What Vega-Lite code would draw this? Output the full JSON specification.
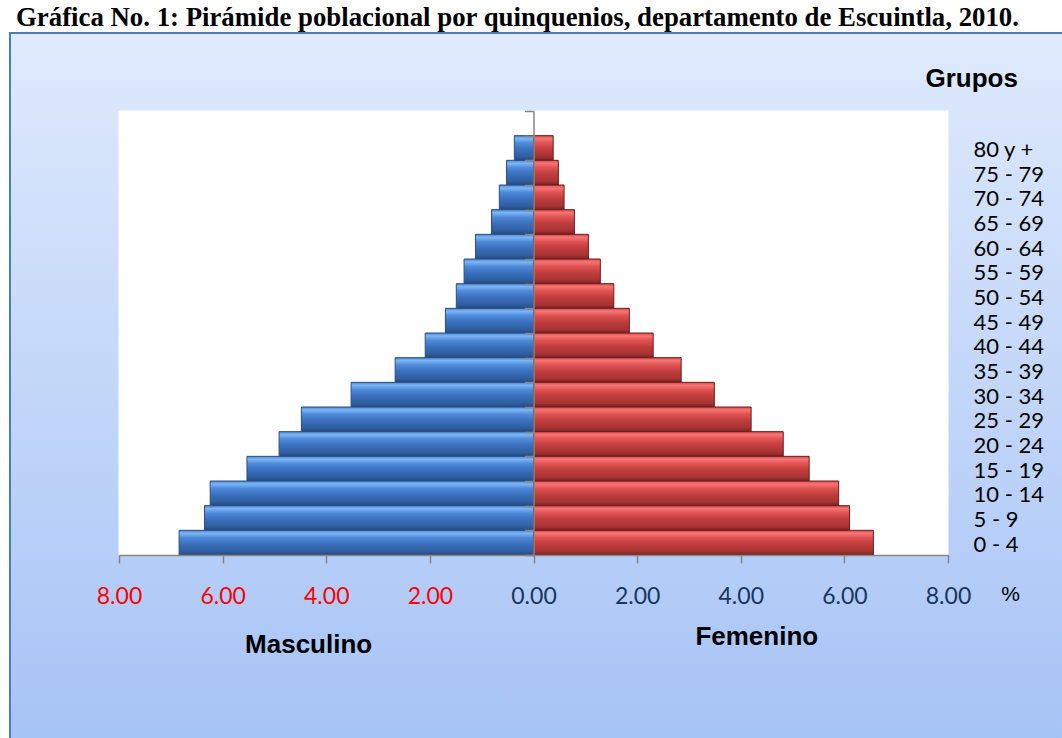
{
  "$schema": "https://vega.github.io/schema/vega-lite/v6.json",
  "width": 1062,
  "height": 715,
  "autosize": {"type": "none"},
  "padding": {"left": 10, "top": 33, "right": -10, "bottom": -10},
  "background": "#FFFFFF",
  "view": {
    "fill": {"gradient": "linear", "x1": 0, "y1": 0, "x2": 0, "y2": 1, "stops": [{"offset": 0, "color": "#DFEAFC"}, {"offset": 1, "color": "#A6C3F6"}]},
    "stroke": "#4A7EBB",
    "strokeWidth": 2
  },
  "title": {
    "text": "Gráfica No. 1: Pirámide poblacional por quinquenios, departamento de Escuintla, 2010.",
    "font": "Liberation Serif",
    "fontSize": 26.8,
    "fontWeight": "bold",
    "color": "#000000",
    "anchor": "start",
    "frame": "group",
    "dx": 6,
    "dy": 20,
    "offset": 0,
    "baseline": "alphabetic",
    "zindex": 5
  },
  "datasets": {
    "bandas": [
      {"grupo": ""}, {"grupo": "80 y +"}, {"grupo": "75 - 79"}, {"grupo": "70 - 74"}, {"grupo": "65 - 69"}, {"grupo": "60 - 64"},
      {"grupo": "55 - 59"}, {"grupo": "50 - 54"}, {"grupo": "45 - 49"}, {"grupo": "40 - 44"}, {"grupo": "35 - 39"}, {"grupo": "30 - 34"},
      {"grupo": "25 - 29"}, {"grupo": "20 - 24"}, {"grupo": "15 - 19"}, {"grupo": "10 - 14"}, {"grupo": "5 - 9"}, {"grupo": "0 - 4"}
    ],
    "pob": [
      {"grupo": "80 y +", "sexo": "Masculino", "pct": -0.37}, {"grupo": "80 y +", "sexo": "Femenino", "pct": 0.38},
      {"grupo": "75 - 79", "sexo": "Masculino", "pct": -0.52}, {"grupo": "75 - 79", "sexo": "Femenino", "pct": 0.48},
      {"grupo": "70 - 74", "sexo": "Masculino", "pct": -0.66}, {"grupo": "70 - 74", "sexo": "Femenino", "pct": 0.59},
      {"grupo": "65 - 69", "sexo": "Masculino", "pct": -0.81}, {"grupo": "65 - 69", "sexo": "Femenino", "pct": 0.79},
      {"grupo": "60 - 64", "sexo": "Masculino", "pct": -1.12}, {"grupo": "60 - 64", "sexo": "Femenino", "pct": 1.06},
      {"grupo": "55 - 59", "sexo": "Masculino", "pct": -1.34}, {"grupo": "55 - 59", "sexo": "Femenino", "pct": 1.29},
      {"grupo": "50 - 54", "sexo": "Masculino", "pct": -1.49}, {"grupo": "50 - 54", "sexo": "Femenino", "pct": 1.55},
      {"grupo": "45 - 49", "sexo": "Masculino", "pct": -1.70}, {"grupo": "45 - 49", "sexo": "Femenino", "pct": 1.85},
      {"grupo": "40 - 44", "sexo": "Masculino", "pct": -2.09}, {"grupo": "40 - 44", "sexo": "Femenino", "pct": 2.31},
      {"grupo": "35 - 39", "sexo": "Masculino", "pct": -2.67}, {"grupo": "35 - 39", "sexo": "Femenino", "pct": 2.85},
      {"grupo": "30 - 34", "sexo": "Masculino", "pct": -3.52}, {"grupo": "30 - 34", "sexo": "Femenino", "pct": 3.49},
      {"grupo": "25 - 29", "sexo": "Masculino", "pct": -4.48}, {"grupo": "25 - 29", "sexo": "Femenino", "pct": 4.20},
      {"grupo": "20 - 24", "sexo": "Masculino", "pct": -4.91}, {"grupo": "20 - 24", "sexo": "Femenino", "pct": 4.82},
      {"grupo": "15 - 19", "sexo": "Masculino", "pct": -5.53}, {"grupo": "15 - 19", "sexo": "Femenino", "pct": 5.32},
      {"grupo": "10 - 14", "sexo": "Masculino", "pct": -6.24}, {"grupo": "10 - 14", "sexo": "Femenino", "pct": 5.89},
      {"grupo": "5 - 9", "sexo": "Masculino", "pct": -6.35}, {"grupo": "5 - 9", "sexo": "Femenino", "pct": 6.10},
      {"grupo": "0 - 4", "sexo": "Masculino", "pct": -6.84}, {"grupo": "0 - 4", "sexo": "Femenino", "pct": 6.56}
    ]
  },
  "layer": [
    {
      "data": {"name": "bandas"},
      "mark": {"type": "bar", "fill": "#FFFFFF", "stroke": "#FFFFFF", "strokeWidth": 1},
      "encoding": {
        "y": {"field": "grupo", "type": "nominal", "axis": null,
              "scale": {"domain": ["", "80 y +", "75 - 79", "70 - 74", "65 - 69", "60 - 64", "55 - 59", "50 - 54", "45 - 49", "40 - 44", "35 - 39", "30 - 34", "25 - 29", "20 - 24", "15 - 19", "10 - 14", "5 - 9", "0 - 4"], "range": [78, 522], "paddingInner": 0, "paddingOuter": 0}},
        "x": {"datum": -8, "type": "quantitative", "axis": null, "scale": {"domain": [-8, 8], "range": [109, 938], "nice": false, "zero": false}},
        "x2": {"datum": 8}
      }
    },
    {
      "data": {"name": "pob"},
      "transform": [{"filter": "datum.sexo === 'Masculino'"}],
      "mark": {
        "type": "bar",
        "fill": {"gradient": "linear", "x1": 0, "y1": 0, "x2": 0, "y2": 1, "stops": [
          {"offset": 0, "color": "#4A86D6"}, {"offset": 0.12, "color": "#7DB6F4"}, {"offset": 0.3, "color": "#4F8ADA"},
          {"offset": 0.55, "color": "#3A70BE"}, {"offset": 0.85, "color": "#2F5E9F"}, {"offset": 1, "color": "#23497F"}]},
        "stroke": "#2B4E7E",
        "strokeWidth": 1
      },
      "encoding": {
        "y": {"field": "grupo", "type": "nominal",
              "axis": {"orient": "left", "offset": -523.5, "labels": false, "title": null, "domain": true, "domainColor": "#868686", "domainWidth": 1.5, "ticks": true, "tickBand": "extent", "tickSize": 9, "tickColor": "#868686", "tickWidth": 1.5, "grid": false, "zindex": 2}},
        "x": {"field": "pct", "type": "quantitative", "stack": null,
              "axis": {"orient": "bottom", "offset": -193, "values": [-8, -6, -4, -2, 0, 2, 4, 6, 8],
                       "labelExpr": "format(abs(datum.value), '.2f')",
                       "labelColor": {"condition": {"test": "datum.value < 0", "value": "#FF0000"}, "value": "#17375E"},
                       "labelFont": "Lato", "labelFontSize": 23, "labelPadding": 22, "labelFlush": false, "labelOverlap": false,
                       "domainColor": "#868686", "domainWidth": 1.5, "tickColor": "#868686", "tickSize": 8, "tickWidth": 1.5, "grid": false,
                       "title": "%", "titleX": 1000, "titleY": 45, "titleAlign": "center", "titleBaseline": "alphabetic", "titleAngle": 0,
                       "titleFont": "Liberation Sans", "titleFontSize": 21, "titleFontWeight": "normal", "titleColor": "#000000", "zindex": 2}}
      }
    },
    {
      "data": {"name": "pob"},
      "transform": [{"filter": "datum.sexo === 'Femenino'"}],
      "mark": {
        "type": "bar",
        "fill": {"gradient": "linear", "x1": 0, "y1": 0, "x2": 0, "y2": 1, "stops": [
          {"offset": 0, "color": "#D84A4A"}, {"offset": 0.12, "color": "#F77575"}, {"offset": 0.3, "color": "#E05252"},
          {"offset": 0.55, "color": "#C13D3D"}, {"offset": 0.85, "color": "#A63333"}, {"offset": 1, "color": "#7A2222"}]},
        "stroke": "#6E1C1C",
        "strokeWidth": 1
      },
      "encoding": {
        "y": {"field": "grupo", "type": "nominal",
              "axis": {"orient": "right", "offset": -124, "domain": false, "ticks": false, "grid": false,
                       "labelFont": "Lato", "labelFontSize": 22, "labelColor": "#000000", "labelPadding": 25, "labelAlign": "left", "labelBaseline": "middle", "labelOffset": 2,
                       "title": "Grupos", "titleAngle": 0, "titleX": -23, "titleY": 53, "titleAlign": "left", "titleBaseline": "alphabetic",
                       "titleFont": "Liberation Sans", "titleFontWeight": "bold", "titleFontSize": 26, "titleColor": "#000000", "zindex": 2}},
        "x": {"field": "pct", "type": "quantitative", "stack": null,
              "axis": {"orient": "bottom", "offset": -193, "values": [-4.35, 4.3],
                       "labelExpr": "datum.value < 0 ? 'Masculino' : 'Femenino'",
                       "labelFont": "Liberation Sans", "labelFontWeight": "bold", "labelFontSize": 26, "labelColor": "#000000",
                       "labelBaseline": {"condition": {"test": "datum.value < 0", "value": "middle"}, "value": "alphabetic"},
                       "labelPadding": 89, "labelFlush": false, "labelOverlap": false,
                       "domain": false, "ticks": false, "grid": false, "title": null, "zindex": 2}}
      }
    }
  ],
  "resolve": {"axis": {"x": "independent", "y": "independent"}}
}
